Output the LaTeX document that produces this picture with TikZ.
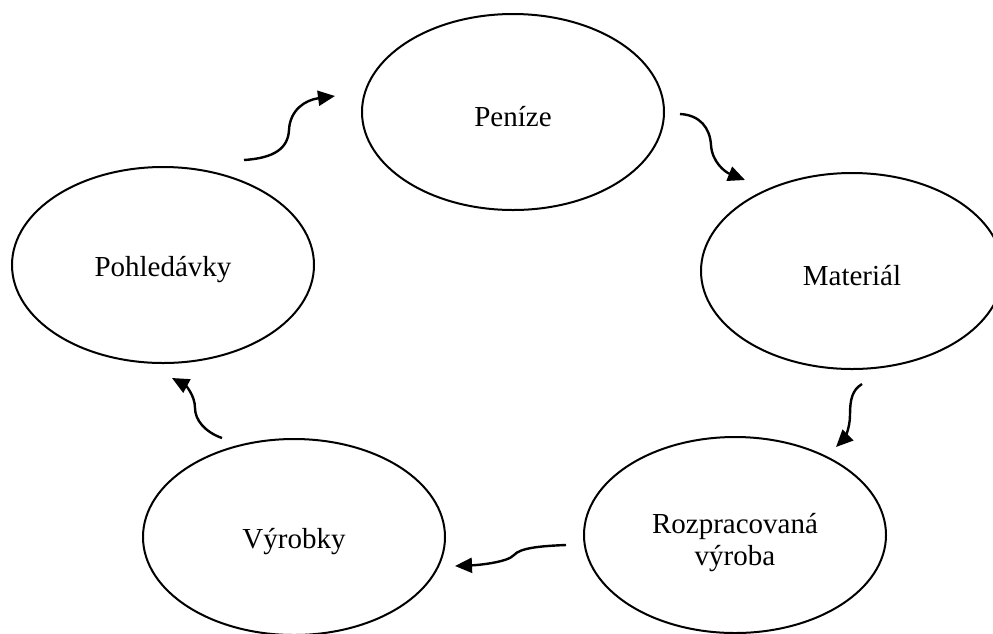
\documentclass[tikz,border=0pt]{standalone}
\usepackage{fontspec}
\setmainfont{Liberation Serif}
\usetikzlibrary{shapes.geometric,arrows.meta}
\newcommand{\lowtxt}[1]{\raisebox{-5pt}[\height][\depth]{#1}}
\begin{document}
\begin{tikzpicture}[x=1pt,y=-1pt,
  oval/.style={draw,ellipse,line width=2pt,minimum width=302pt,minimum height=196pt,inner sep=0pt,align=center,font=\fontsize{29}{32}\selectfont},
  flow/.style={line width=2.4pt,-{Triangle[length=17pt,width=15pt]}}]
\useasboundingbox (0,0) rectangle (993,633);
\node[oval] (penize) at (513,112) {\lowtxt{Peníze}};
\node[oval] (material) at (852,271) {\lowtxt{Materiál}};
\node[oval] (rozpr) at (735,535) {};
\node[font=\fontsize{29}{32}\selectfont,align=center] (rozprtext) at (735,543) {Rozpracovaná\\výroba};
\node[oval] (vyrobky) at (294,537) {\lowtxt{Výrobky}};
\node[oval] (pohl) at (163,265) {\lowtxt{Pohledávky}};
\coordinate (a1s) at (244,160); \coordinate (a1m) at (289,130); \coordinate (a1e) at (335,96);
\coordinate (a2s) at (680,114); \coordinate (a2m) at (711,145); \coordinate (a2e) at (745,180);
\coordinate (a3s) at (862,384); \coordinate (a3m) at (850,415); \coordinate (a3e) at (836,447);
\coordinate (a4s) at (566,545); \coordinate (a4m) at (514,555); \coordinate (a4e) at (455,566);
\coordinate (a5s) at (222,438); \coordinate (a5m) at (195,408); \coordinate (a5e) at (172,378);
\draw[flow] (a1s) .. controls (275,158) and (288,148) .. (a1m) .. controls (290,110) and (305,100) .. (a1e);
\draw[flow] (a2s) .. controls (700,115) and (710,128) .. (a2m) .. controls (712,162) and (725,172) .. (a2e);
\draw[flow] (a3s) .. controls (852,390) and (850,400) .. (a3m) .. controls (850,430) and (843,440) .. (a3e);
\draw[flow] (a4s) .. controls (540,546) and (520,548) .. (a4m) .. controls (508,562) and (480,565) .. (a4e);
\draw[flow] (a5s) .. controls (205,432) and (195,420) .. (a5m) .. controls (195,395) and (185,385) .. (a5e);
\end{tikzpicture}
\end{document}
